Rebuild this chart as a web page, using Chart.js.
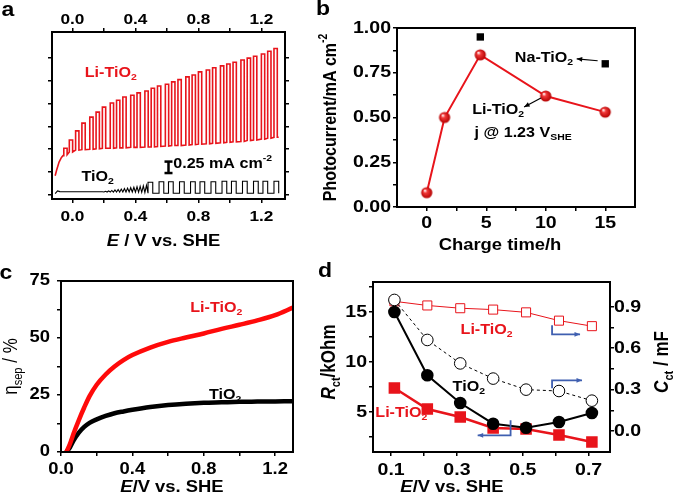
<!DOCTYPE html>
<html lang="en">
<head>
<meta charset="UTF-8">
<title>Li-TiO2 photoelectrochemistry</title>
<script src="https://cdn.jsdelivr.net/npm/chart.js"></script>
<style>
  body { margin: 0; background: #fff; }
  #wrap { position: relative; width: 675px; height: 498px; }
  #wrap canvas { position: absolute; left: 0; top: 0; }
</style>
</head>
<body>
<div id="wrap">
  <canvas id="pa" width="675" height="498"></canvas>
  <canvas id="pb" width="675" height="498"></canvas>
  <canvas id="pc" width="675" height="498"></canvas>
  <canvas id="pd" width="675" height="498"></canvas>
</div>
<script>
// ---- panel a: chopped-light LSV (current in mA cm-2, read against the 0.25 scale bar)
const liLeadE = [-0.11, -0.10, -0.085, -0.07, -0.06];
const liLeadJ = [0.42, 0.55, 0.72, 0.82, 0.86];
const liOnE = [-0.055, -0.02, 0.02, 0.06, 0.11, 0.15, 0.19, 0.24, 0.28, 0.32, 0.37, 0.41, 0.46, 0.50, 0.54, 0.59,
               0.63, 0.67, 0.72, 0.76, 0.80, 0.85, 0.89, 0.94, 0.98, 1.02, 1.07, 1.11, 1.15, 1.20, 1.24, 1.28];
const liOn = [1.02, 1.20, 1.40, 1.57, 1.70, 1.81, 1.92, 2.01, 2.07, 2.14, 2.18, 2.23, 2.27, 2.33, 2.38, 2.42,
              2.47, 2.52, 2.58, 2.62, 2.69, 2.73, 2.78, 2.82, 2.86, 2.90, 2.95, 2.99, 3.03, 3.08, 3.14, 3.20];
const liOff = [0.88, 0.94, 0.98, 0.99, 1.00, 1.01, 1.02, 1.02, 1.03, 1.03, 1.04, 1.04, 1.05, 1.05, 1.06, 1.07,
               1.08, 1.08, 1.09, 1.10, 1.11, 1.12, 1.13, 1.14, 1.15, 1.16, 1.17, 1.19, 1.20, 1.22, 1.24, 1.26];
const LI_ON_WIDTH = 0.021;
const LI_END_E = 1.31;

// TiO2: flat start, then fast small zigzag, then wide chopped pulses
const tiLeadE = [-0.11, -0.095, -0.08, 0.19,
                 0.20, 0.21, 0.22, 0.23, 0.24, 0.25, 0.26, 0.27, 0.28, 0.29, 0.30, 0.31, 0.32, 0.33, 0.34,
                 0.35, 0.36, 0.37, 0.38, 0.39, 0.40, 0.41, 0.42, 0.43, 0.44, 0.45, 0.46, 0.47];
const tiLeadJ = [0.03, 0.09, 0.075, 0.07,
                 0.065, 0.08, 0.065, 0.09, 0.065, 0.10, 0.065, 0.11, 0.065, 0.12, 0.065, 0.13, 0.065, 0.14, 0.065,
                 0.15, 0.065, 0.16, 0.065, 0.17, 0.065, 0.18, 0.06, 0.19, 0.06, 0.20, 0.055, 0.21];
const tiOnE = [0.48, 0.55, 0.61, 0.68, 0.75, 0.81, 0.88, 0.95, 1.01, 1.08, 1.15, 1.21, 1.28];
const tiOffE = [0.51, 0.58, 0.64, 0.71, 0.78, 0.84, 0.91, 0.98, 1.04, 1.11, 1.18, 1.24, 1.31];
const tiOn = [0.28, 0.29, 0.29, 0.29, 0.29, 0.29, 0.29, 0.30, 0.30, 0.30, 0.30, 0.30, 0.30];
const tiOff = [0.04, 0.04, 0.04, 0.04, 0.04, 0.04, 0.04, 0.04, 0.04, 0.04, 0.04, 0.04, 0.04];
const TI_END_E = 1.31;
const scaleBarE = 0.61, scaleBarJ = [0.48, 0.73];

const aXTicks = [0, 0.2, 0.4, 0.6, 0.8, 1.0, 1.2];
const aYTicks = [0, 0.5, 1, 1.5, 2, 2.5, 3];
const aXLabels = ['0.0', '0.4', '0.8', '1.2'];

// ---- panel b: photocurrent at 1.23 V vs charge time
const bTime = [0, 1.5, 4.5, 10, 15];
const bLi = [0.08, 0.50, 0.85, 0.62, 0.53];
const bNaTime = [4.5, 15];
const bNa = [0.95, 0.80];
const bXTicks = [0, 2.5, 5, 7.5, 10, 12.5, 15];
const bYTicks = [0, 0.125, 0.25, 0.375, 0.5, 0.625, 0.75, 0.875, 1];
const bXLabels = ['0', '5', '10', '15'];
const bYLabels = ['0.00', '0.25', '0.50', '0.75', '1.00'];

// ---- panel c: charge separation efficiency
const cE = [0.03, 0.05, 0.07, 0.10, 0.13, 0.16, 0.20, 0.25, 0.30, 0.35, 0.40, 0.50, 0.60, 0.70, 0.80, 0.90, 1.00, 1.10, 1.20, 1.30];
const cLi = [0, 3.5, 8, 14, 19.5, 24.5, 29.5, 34, 37.5, 40.3, 42.5, 45.8, 48.3, 50.2, 52, 54, 55.8, 57.7, 60, 63.3];
const cTi = [0, 2, 5, 8.5, 11, 12.8, 14.3, 15.8, 17, 17.8, 18.5, 19.7, 20.6, 21.2, 21.6, 21.8, 22, 22.1, 22.2, 22.3];
const cXTicks = [0, 0.2, 0.4, 0.6, 0.8, 1.0, 1.2];
const cYTicks = [0, 12.5, 25, 37.5, 50, 62.5, 75];
const cXLabels = ['0.0', '0.4', '0.8', '1.2'];
const cYLabels = ['0', '25', '50', '75'];

// ---- panel d: Rct and Cct
const dE = [0.11, 0.21, 0.31, 0.41, 0.51, 0.61, 0.71];
const dRctTi = [15.0, 8.67, 5.9, 3.83, 3.43, 4.0, 4.9];
const dRctLi = [7.4, 5.3, 4.5, 3.4, 3.3, 2.7, 2.0];
const dCctTi = [0.95, 0.66, 0.49, 0.38, 0.30, 0.29, 0.22];
const dCctLi = [0.94, 0.91, 0.89, 0.88, 0.86, 0.80, 0.76];
const dXTicks = [0.1, 0.2, 0.3, 0.4, 0.5, 0.6, 0.7];
const dYTicks = [2.5, 5, 7.5, 10, 12.5, 15, 17.5];
const dY2Ticks = [0, 0.15, 0.3, 0.45, 0.6, 0.75, 0.9];
const dXLabels = ['0.1', '0.3', '0.5', '0.7'];
const dYLabels = ['5', '10', '15'];
const dY2Labels = ['0.0', '0.3', '0.6', '0.9'];

const RED = '#e8141b';
const BLUE = '#3f5fb0';
const SX = 1.15; // the original figure is stretched sideways
const FONT = '"Liberation Sans", Arial, Helvetica, sans-serif';

function xy(xs, ys) { return xs.map((x, i) => ({ x: x, y: ys[i] })); }

function chopped(leadE, leadJ, onE, offE, on, off, endE) {
  const pts = xy(leadE, leadJ);
  onE.forEach((e, i) => {
    pts.push({ x: e, y: off[i] }, { x: e, y: on[i] }, { x: offE[i], y: on[i] }, { x: offE[i], y: off[i] });
  });
  pts.push({ x: endE, y: off[off.length - 1] });
  return pts;
}

function rich(ctx, parts, x, y, o) {
  o = o || {};
  const size = o.size || 16;
  ctx.save();
  ctx.translate(x, y);
  ctx.scale(SX, 1);
  ctx.rotate(o.rot || 0);
  ctx.fillStyle = o.color || '#000';
  ctx.textBaseline = 'middle';
  ctx.textAlign = 'left';
  const items = parts.map(p => {
    const t = Array.isArray(p) ? p[0] : p, k = Array.isArray(p) ? p[1] : '';
    const small = k === 'sub' || k === 'sup';
    const f = (k === 'i' ? 'italic ' : '') + (o.bold === false ? '' : 'bold ') + (small ? size * 0.65 : size) + 'px ' + FONT;
    ctx.font = f;
    return { t, f, w: ctx.measureText(t).width, dy: k === 'sub' ? size * 0.32 : k === 'sup' ? -size * 0.38 : 0 };
  });
  const total = items.reduce((s, i) => s + i.w, 0);
  let cx = o.align === 'left' ? 0 : o.align === 'right' ? -total : -total / 2;
  items.forEach(i => { ctx.font = i.f; ctx.fillText(i.t, cx, i.dy); cx += i.w; });
  ctx.restore();
}

function box(ctx, a) {
  ctx.save();
  ctx.lineWidth = 2;
  ctx.strokeStyle = '#000';
  ctx.strokeRect(a.left, a.top, a.right - a.left, a.bottom - a.top);
  ctx.restore();
}

function arrow(ctx, pts, color, width, head) {
  ctx.save();
  ctx.strokeStyle = color; ctx.fillStyle = color; ctx.lineWidth = width;
  ctx.beginPath();
  pts.forEach((p, i) => i ? ctx.lineTo(p[0], p[1]) : ctx.moveTo(p[0], p[1]));
  ctx.stroke();
  const [x1, y1] = pts[pts.length - 2], [x2, y2] = pts[pts.length - 1];
  const ang = Math.atan2(y2 - y1, x2 - x1);
  ctx.beginPath();
  ctx.moveTo(x2, y2);
  ctx.lineTo(x2 - head * Math.cos(ang - 0.4), y2 - head * Math.sin(ang - 0.4));
  ctx.lineTo(x2 - head * Math.cos(ang + 0.4), y2 - head * Math.sin(ang + 0.4));
  ctx.closePath();
  ctx.fill();
  ctx.restore();
}

function axis(pos, min, max, ticks) {
  return {
    type: 'linear', position: pos, min: min, max: max,
    afterBuildTicks: s => { s.ticks = ticks.map(v => ({ value: v })); },
    afterFit: s => { if (s.isHorizontal()) s.height = 0; else s.width = 0; },
    ticks: { display: false },
    grid: { display: ticks.length > 0, drawOnChartArea: false, drawTicks: true, tickLength: 4, lineWidth: 1.5, color: '#000' },
    border: { display: false }
  };
}

function sphere(r) {
  const c = document.createElement('canvas');
  const s = Math.ceil(2 * r + 2);
  c.width = c.height = s;
  const g = c.getContext('2d'), m = s / 2;
  const grad = g.createRadialGradient(m - r * 0.35, m - r * 0.4, r * 0.08, m, m, r);
  grad.addColorStop(0, '#fff2f2');
  grad.addColorStop(0.3, '#f23a3a');
  grad.addColorStop(1, '#b30000');
  g.fillStyle = grad;
  g.beginPath(); g.arc(m, m, r, 0, Math.PI * 2); g.fill();
  return c;
}

function base(padding) {
  return { responsive: false, animation: false, layout: { padding: padding },
           plugins: { legend: { display: false }, tooltip: { enabled: false } } };
}

// ---------------- panel a ----------------
new Chart(document.getElementById('pa'), {
  type: 'line',
  data: { datasets: [
    { data: chopped(liLeadE, liLeadJ, liOnE, liOnE.map(e => e + LI_ON_WIDTH), liOn, liOff, LI_END_E),
      borderColor: RED, borderWidth: 1.6, pointRadius: 0 },
    { data: chopped(tiLeadE, tiLeadJ, tiOnE, tiOffE, tiOn, tiOff, TI_END_E),
      borderColor: '#000', borderWidth: 1.1, pointRadius: 0 },
    { data: scaleBarJ.map(j => ({ x: scaleBarE, y: j })), borderColor: '#000', borderWidth: 2.5,
      pointStyle: 'line', pointRadius: 4, pointBorderWidth: 2.5, pointBorderColor: '#000' }
  ] },
  options: Object.assign(base({ left: 52, top: 32, right: 390, bottom: 299 }), {
    scales: {
      x: axis('bottom', -0.13, 1.35, aXTicks),
      x2: axis('top', -0.13, 1.35, aXTicks),
      y: axis('left', -0.087, 3.56, aYTicks),
      y2: axis('right', -0.087, 3.56, aYTicks)
    }
  }),
  plugins: [{ id: 'decoA', afterDraw(ch) {
    const c = ch.ctx, x = ch.scales.x, y = ch.scales.y, a = ch.chartArea;
    box(c, a);
    aXLabels.forEach(l => {
      const px = x.getPixelForValue(parseFloat(l));
      rich(c, [l], px, a.bottom + 18, { size: 15 });
      rich(c, [l], px, a.top - 12, { size: 15 });
    });
    rich(c, [['E', 'i'], ' / V vs. SHE'], (a.left + a.right) / 2 - 5, a.bottom + 43, { size: 16 });
    rich(c, ['Li-TiO', ['2', 'sub']], x.getPixelForValue(0.243), y.getPixelForValue(2.66), { size: 14, color: RED });
    rich(c, ['TiO', ['2', 'sub']], x.getPixelForValue(0.16), y.getPixelForValue(0.39), { size: 14 });
    rich(c, ['0.25 mA cm', ['-2', 'sup']], x.getPixelForValue(0.64), y.getPixelForValue(0.68), { size: 14, align: 'left' });
    rich(c, ['a'], 8, 10, { size: 20 });
  } }]
});

// ---------------- panel b ----------------
new Chart(document.getElementById('pb'), {
  type: 'line',
  data: { datasets: [
    { data: xy(bTime, bLi), borderColor: RED, borderWidth: 2, pointStyle: sphere(5.6), pointRadius: 6 },
    { data: xy(bNaTime, bNa), showLine: false, pointStyle: 'rect', pointRadius: 5.2,
      pointBackgroundColor: '#000', pointBorderColor: '#000', pointBorderWidth: 0 }
  ] },
  options: Object.assign(base({ left: 397, top: 28, right: 40, bottom: 291 }), {
    scales: {
      x: axis('bottom', -2.5, 17.5, bXTicks),
      y: axis('left', 0, 1, bYTicks)
    }
  }),
  plugins: [{ id: 'decoB', afterDraw(ch) {
    const c = ch.ctx, x = ch.scales.x, y = ch.scales.y, a = ch.chartArea;
    const P = (vx, vy) => [x.getPixelForValue(vx), y.getPixelForValue(vy)];
    box(c, a);
    bXLabels.forEach(l => rich(c, [l], x.getPixelForValue(parseFloat(l)), a.bottom + 16, { size: 17 }));
    bYLabels.forEach(l => rich(c, [l], a.left - 6, y.getPixelForValue(parseFloat(l)), { size: 17, align: 'right' }));
    rich(c, ['Charge time/h'], 500, a.bottom + 39, { size: 16 });
    rich(c, ['Photocurrent/mA cm', ['-2', 'sup']], a.left - 66, (a.top + a.bottom) / 2, { size: 16, rot: -Math.PI / 2 });
    rich(c, ['Na-TiO', ['2', 'sub']], ...P(9.85, 0.833), { size: 14 });
    rich(c, ['Li-TiO', ['2', 'sub']], ...P(6.0, 0.542), { size: 14 });
    rich(c, ['j @ 1.23 V', ['SHE', 'sub']], ...P(8.1, 0.413), { size: 14 });
    arrow(c, [P(14.36, 0.817), P(12.6, 0.828)], '#000', 1.2, 6);
    arrow(c, [P(9.6, 0.609), P(8.18, 0.559)], '#000', 1.2, 6);
    rich(c, ['b'], 323, 9, { size: 20 });
  } }]
});

// ---------------- panel c ----------------
new Chart(document.getElementById('pc'), {
  type: 'line',
  data: { datasets: [
    { data: xy(cE, cLi), borderColor: '#ff0a0a', borderWidth: 4.5, pointRadius: 0, cubicInterpolationMode: 'monotone' },
    { data: xy(cE, cTi), borderColor: '#000', borderWidth: 4.5, pointRadius: 0, cubicInterpolationMode: 'monotone' }
  ] },
  options: Object.assign(base({ left: 61, top: 281, right: 382, bottom: 46 }), {
    scales: {
      x: axis('bottom', 0, 1.3, cXTicks),
      y: axis('left', 0, 75, cYTicks)
    }
  }),
  plugins: [{ id: 'decoC', afterDraw(ch) {
    const c = ch.ctx, x = ch.scales.x, y = ch.scales.y, a = ch.chartArea;
    box(c, a);
    cXLabels.forEach(l => rich(c, [l], x.getPixelForValue(parseFloat(l)), a.bottom + 18, { size: 16 }));
    cYLabels.forEach(l => rich(c, [l], a.left - 11, y.getPixelForValue(parseFloat(l)), { size: 16, align: 'right' }));
    rich(c, [['E', 'i'], '/V vs. SHE'], (a.left + a.right) / 2 - 5, a.bottom + 36, { size: 16 });
    rich(c, ['\u03b7', ['sep', 'sub'], ' / %'], 12, (a.top + a.bottom) / 2, { size: 17, bold: false, rot: -Math.PI / 2 });
    rich(c, ['Li-TiO', ['2', 'sub']], x.getPixelForValue(0.87), y.getPixelForValue(63.1), { size: 14, color: RED });
    rich(c, ['TiO', ['2', 'sub']], x.getPixelForValue(0.92), y.getPixelForValue(24.9), { size: 14 });
    rich(c, ['c'], 6, 273, { size: 20 });
  } }]
});

// ---------------- panel d ----------------
new Chart(document.getElementById('pd'), {
  type: 'line',
  data: { datasets: [
    { data: xy(dE, dRctTi), yAxisID: 'y', borderColor: '#000', borderWidth: 2, pointStyle: 'circle', pointRadius: 5.3,
      pointBackgroundColor: '#000', pointBorderColor: '#000', order: 1 },
    { data: xy(dE, dRctLi), yAxisID: 'y', borderColor: RED, borderWidth: 2.5, pointStyle: 'rect', pointRadius: 6.4,
      pointBackgroundColor: RED, pointBorderColor: RED, order: 2 },
    { data: xy(dE, dCctTi), yAxisID: 'y2', borderColor: '#000', borderWidth: 1, borderDash: [3, 3], pointStyle: 'circle',
      pointRadius: 5.8, pointBackgroundColor: '#fff', pointBorderColor: '#000', pointBorderWidth: 1, order: 3 },
    { data: xy(dE, dCctLi), yAxisID: 'y2', borderColor: RED, borderWidth: 1, pointStyle: 'rect', pointRadius: 6.4,
      pointBackgroundColor: '#fff', pointBorderColor: RED, pointBorderWidth: 1, order: 4 }
  ] },
  options: Object.assign(base({ left: 373, top: 282, right: 65, bottom: 46 }), {
    scales: {
      x: axis('bottom', 0.045, 0.765, dXTicks),
      y: axis('left', 1, 18, dYTicks),
      y2: axis('right', -0.152, 1.08, dY2Ticks)
    }
  }),
  plugins: [{ id: 'decoD', afterDraw(ch) {
    const c = ch.ctx, x = ch.scales.x, y = ch.scales.y, y2 = ch.scales.y2, a = ch.chartArea;
    const P = (vx, vy) => [x.getPixelForValue(vx), y.getPixelForValue(vy)];
    box(c, a);
    dXLabels.forEach(l => rich(c, [l], x.getPixelForValue(parseFloat(l)), a.bottom + 18, { size: 17 }));
    dYLabels.forEach(l => rich(c, [l], a.left - 6, y.getPixelForValue(parseFloat(l)), { size: 17, align: 'right' }));
    dY2Labels.forEach(l => rich(c, [l], a.right + 4, y2.getPixelForValue(parseFloat(l)), { size: 17, align: 'left' }));
    rich(c, [['E', 'i'], '/V vs. SHE'], 452, a.bottom + 36, { size: 16 });
    rich(c, [['R', 'i'], ['ct', 'sub'], '/kOhm'], 330, (a.top + a.bottom) / 2 - 5, { size: 17, rot: -Math.PI / 2 });
    rich(c, [['C', 'i'], ['ct', 'sub'], ' / mF'], 663, (a.top + a.bottom) / 2 - 5, { size: 17, rot: -Math.PI / 2 });
    rich(c, ['Li-TiO', ['2', 'sub']], ...P(0.39, 13.2), { size: 14, color: RED });
    rich(c, ['TiO', ['2', 'sub']], ...P(0.336, 7.5), { size: 14 });
    rich(c, ['Li-TiO', ['2', 'sub']], ...P(0.131, 4.9), { size: 14, color: RED });
    arrow(c, [P(0.589, 13.67), P(0.589, 12.77), P(0.674, 12.77)], BLUE, 1.8, 6);
    arrow(c, [P(0.589, 7.37), P(0.589, 8.17), P(0.68, 8.17)], BLUE, 1.8, 6);
    arrow(c, [P(0.463, 4.17), P(0.463, 2.67), P(0.363, 2.67)], BLUE, 1.8, 6);
    rich(c, ['d'], 325, 271, { size: 20 });
  } }]
});
</script>
</body>
</html>
